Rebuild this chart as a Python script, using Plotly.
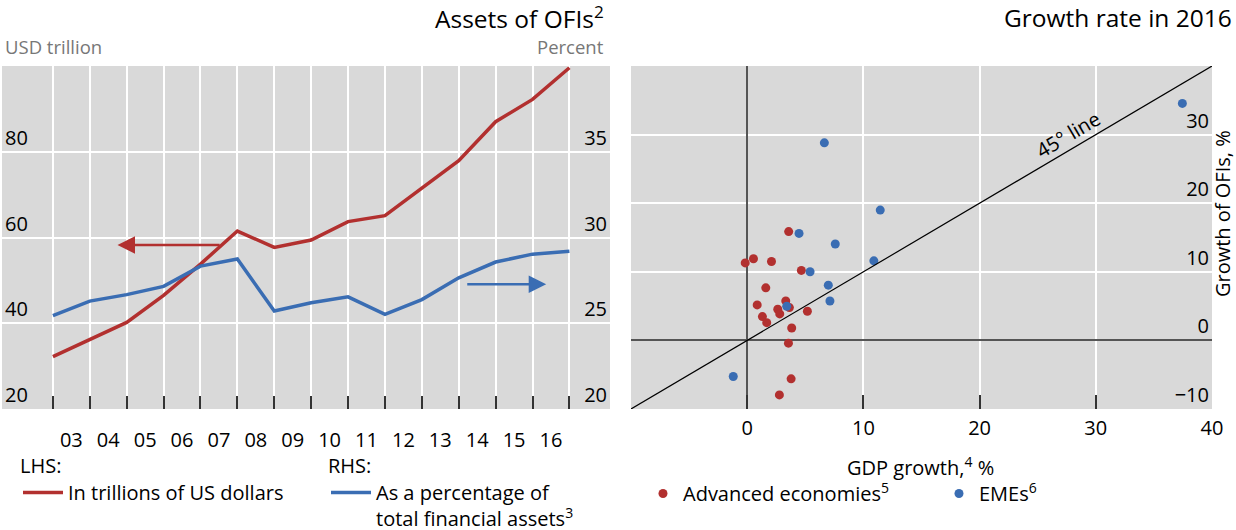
import plotly.graph_objects as go

# ---------------- data ----------------
years = list(range(2002, 2017))
ofi_usd_trn = [32.2, 36.2, 40.2, 46.5, 53.8, 61.5, 57.7, 59.4, 63.7, 65.1, 71.5, 77.9, 87.0, 92.2, 99.6]
ofi_pct_total = [25.44, 26.29, 26.67, 27.15, 28.33, 28.75, 25.71, 26.2, 26.54, 25.52, 26.38, 27.65, 28.57, 29.03, 29.2]
year_tick_pos = [y + 0.5 for y in range(2002, 2016)]
year_tick_text = ["03", "04", "05", "06", "07", "08", "09", "10", "11", "12", "13", "14", "15", "16"]

ae_gdp = [3.57, -0.17, 0.54, 2.09, 4.66, 1.6, 0.86, 3.32, 2.63, 2.8, 3.63, 1.31, 1.68, 5.18, 3.83, 3.55, 3.78, 2.77]
ae_ofi = [15.86, 11.3, 11.9, 11.5, 10.2, 7.66, 5.17, 5.76, 4.54, 3.86, 4.78, 3.47, 2.59, 4.25, 1.8, -0.4, -5.6, -7.95]
eme_gdp = [37.45, 6.64, 11.45, 4.46, 7.58, 10.9, 5.41, 6.98, 7.12, 3.4, -1.2]
eme_ofi = [34.55, 28.8, 19.0, 15.6, 14.06, 11.6, 10.0, 8.05, 5.75, 4.98, -5.27]
line45 = [-10, 40]
gdp_ticks = [0, 10, 20, 30, 40]

RED = "#b2302f"
BLUE = "#3a6db3"
BG = "#d9d9d9"
FONT = "Open Sans"
FS = 20

fig = go.Figure()

fig.add_trace(go.Scatter(x=years, y=ofi_usd_trn, mode="lines", line=dict(color=RED, width=3.5),
                         name="In trillions of US dollars", xaxis="x", yaxis="y", legend="legend"))
fig.add_trace(go.Scatter(x=years, y=ofi_pct_total, mode="lines", line=dict(color=BLUE, width=3.5),
                         name="As a percentage of<br>total financial assets<sup>3</sup>",
                         xaxis="x", yaxis="y2", legend="legend2"))

# 45-degree line drawn on overlay axes (x3/y4) that share x2/y3 ranges; x3 carries GDP tick labels
fig.add_trace(go.Scatter(x=line45, y=line45, mode="lines", line=dict(color="black", width=1.2),
                         showlegend=False, xaxis="x3", yaxis="y4", hoverinfo="skip"))
fig.add_trace(go.Scatter(x=ae_gdp, y=ae_ofi, mode="markers", marker=dict(color=RED, size=9),
                         name="Advanced economies<sup>5</sup>", xaxis="x2", yaxis="y3", legend="legend3"))
fig.add_trace(go.Scatter(x=eme_gdp, y=eme_ofi, mode="markers", marker=dict(color=BLUE, size=9),
                         name="EMEs<sup>6</sup>", xaxis="x2", yaxis="y3", legend="legend3"))

L, R, T, B = 2, 24, 66, 121
W, H = 1236, 530
PW = W - L - R
PH = H - T - B


def px(xp):
    return (xp - L) / PW


def py(yp):
    return (H - B - yp) / PH


tickfont = dict(family=FONT, size=FS, color="black")
lfont = dict(family=FONT, size=FS, color="black")

fig.update_layout(
    width=W, height=H,
    margin=dict(l=L, r=R, t=T, b=B, autoexpand=False),
    paper_bgcolor="white",
    plot_bgcolor=BG,
    font=dict(family=FONT, size=FS, color="black"),
    xaxis=dict(domain=[0, px(610)], range=[2000.62, 2017.1], tickmode="array", automargin=False,
               tickvals=year_tick_pos, ticktext=year_tick_text, ticks="", showgrid=False,
               tickfont=tickfont, ticklabelstandoff=17, zeroline=False, showline=False,
               minor=dict(tickmode="array", tickvals=years, ticks="inside", ticklen=13,
                          tickwidth=1.5, tickcolor="#333", showgrid=True,
                          gridcolor="white", gridwidth=1.5)),
    yaxis=dict(domain=[0, 1], range=[20, 100], tickvals=[20, 40, 60, 80], showgrid=True, automargin=False,
               gridcolor="white", gridwidth=1.5, ticklabelposition="inside top", tickfont=tickfont,
               zeroline=False, ticks=""),
    yaxis2=dict(overlaying="y", side="right", anchor="x", range=[20, 40], tickvals=[20, 25, 30, 35],
                automargin=False, showgrid=False, ticklabelposition="inside top", tickfont=tickfont,
                zeroline=False, ticks=""),
    xaxis2=dict(domain=[px(631), 1], anchor="y3", range=[-10, 40], tickmode="array", automargin=False,
                tickvals=[-10, 0, 10, 20, 30, 40], showticklabels=False,
                ticks="inside", ticklen=14, tickwidth=1.5, tickcolor="#333",
                showgrid=True, gridcolor="white", gridwidth=1.5, zeroline=True,
                zerolinecolor="#555", zerolinewidth=2),
    xaxis3=dict(overlaying="x2", anchor="y4", range=[-10, 40], tickmode="array",
                automargin=False, tickvals=gdp_ticks, ticks="", showgrid=False, zeroline=False,
                showline=False, tickfont=tickfont, ticklabelstandoff=5, ticklabeloverflow="allow"),
    yaxis3=dict(domain=[0, 1], anchor="x2", side="right", range=[-10, 40], automargin=False,
                tickvals=[-10, 0, 10, 20, 30], ticktext=["\u221210", "0", "10", "20", "30"],
                showgrid=True, gridcolor="white", gridwidth=1.5, zeroline=True,
                zerolinecolor="#555", zerolinewidth=2, ticklabelposition="inside top",
                tickfont=tickfont, ticks=""),
    yaxis4=dict(overlaying="y3", anchor="x3", side="left", range=[-10, 40], automargin=False,
                showticklabels=False, showgrid=False, zeroline=False, showline=False, ticks=""),
    legend=dict(x=px(18), y=py(447), xanchor="left", yanchor="top", bgcolor="rgba(0,0,0,0)",
                title=dict(text="LHS:", font=lfont, side="top"), itemwidth=40,
                font=lfont, tracegroupgap=0),
    legend2=dict(x=px(326), y=py(447), xanchor="left", yanchor="top", bgcolor="rgba(0,0,0,0)",
                 title=dict(text="RHS:", font=lfont, side="top"), itemwidth=40,
                 font=lfont, valign="top"),
    legend3=dict(x=px(643), y=py(474), xanchor="left", yanchor="top", orientation="h",
                 bgcolor="rgba(0,0,0,0)", font=lfont, entrywidth=251),
    showlegend=True,
)

ann = []
ann.append(dict(text="Assets of OFIs<sup>2</sup>", x=px(606), y=py(18), xref="paper", yref="paper",
                xanchor="right", yanchor="middle", showarrow=False, font=dict(size=24.5, color="black")))
ann.append(dict(text="Growth rate in 2016", x=px(1234), y=py(18), xref="paper", yref="paper",
                xanchor="right", yanchor="middle", showarrow=False, font=dict(size=24.5, color="black")))
ann.append(dict(text="USD trillion", x=px(3), y=py(47), xref="paper", yref="paper",
                xanchor="left", yanchor="middle", showarrow=False, font=dict(size=18.5, color="#777")))
ann.append(dict(text="Percent", x=px(606), y=py(47), xref="paper", yref="paper",
                xanchor="right", yanchor="middle", showarrow=False, font=dict(size=18.5, color="#777")))
ann.append(dict(text="GDP growth,<sup>4</sup> %", x=px(920), y=py(466), xref="paper", yref="paper",
                xanchor="center", yanchor="middle", showarrow=False, font=dict(size=FS, color="black")))
ann.append(dict(text="Growth of OFIs, %", x=px(1222), y=py(214), xref="paper", yref="paper",
                xanchor="center", yanchor="middle", textangle=-90, showarrow=False,
                font=dict(size=FS, color="black")))
ann.append(dict(text="45\u00b0 line", x=27.6, y=30.0, xref="x2", yref="y3", textangle=-30.6,
                showarrow=False, font=dict(size=FS, color="black")))
# direction arrows
ann.append(dict(text="", x=2003.75, y=58.25, ax=2006.56, ay=58.25, xref="x", yref="y",
                axref="x", ayref="y", showarrow=True, arrowhead=2, arrowsize=1.4, arrowwidth=2.5,
                arrowcolor=RED))
ann.append(dict(text="", x=2015.37, y=27.27, ax=2013.19, ay=27.27, xref="x", yref="y2",
                axref="x", ayref="y2", showarrow=True, arrowhead=2, arrowsize=1.4, arrowwidth=2.5,
                arrowcolor=BLUE))
fig.update_layout(annotations=ann)

fig.write_html("out.html", config={"displayModeBar": False},
               post_script="document.body.style.margin='0';")
